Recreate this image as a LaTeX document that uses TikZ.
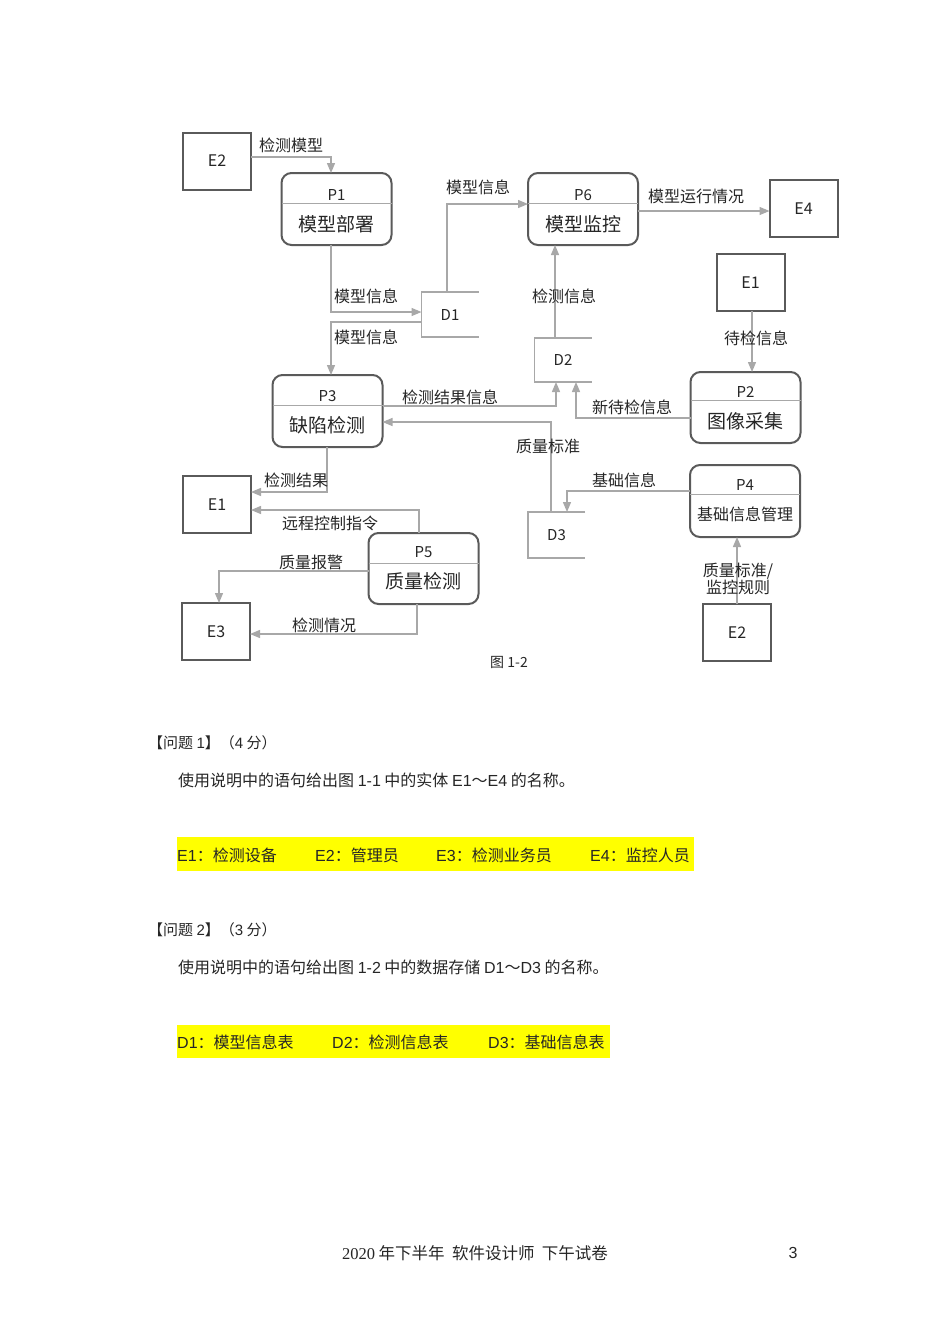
\documentclass[tikz,border=0pt]{standalone}
\usepackage{fontspec}
\newfontfamily\cjk{Noto Sans CJK SC}
\newfontfamily\latin{Liberation Sans}
\newfontfamily\latinserif{Liberation Serif}
\usetikzlibrary{arrows.meta,positioning}
\definecolor{boxgray}{HTML}{5A5A5A}
\definecolor{linegray}{HTML}{A8A8A8}
\definecolor{txtgray}{HTML}{262626}
\definecolor{hlyellow}{HTML}{FFFF00}

\begin{document}
\begin{tikzpicture}[x=1pt,y=-1pt]
    \tikzset{entity/.style= {draw=boxgray, line width=2pt, rectangle
    , minimum width=68pt, minimum height=57pt, outer sep=0pt
    , font=\cjk\fontsize{16}{16}\selectfont, text=txtgray
      },
    process/.style= {draw=boxgray, line width=2pt, rectangle
    , rounded corners=10pt, outer sep=0pt
    , minimum width=110pt, minimum height=72pt
      },
    pid/.style= {font=\cjk\fontsize{15}{15}\selectfont, text=txtgray, inner sep=0pt},
    pname/.style= {font=\cjk\fontsize{19}{19}\selectfont, text=txtgray, inner sep=0pt},
    divider/.style= {draw=linegray, line width=1pt},
    store/.style= {minimum width=57pt, minimum height=45pt, outer sep=0pt
    , font=\cjk\fontsize{15}{15}\selectfont, text=txtgray
      },
    storeline/.style= {draw=linegray, line width=1.2pt},
    flow/.style= {draw=linegray, line width=1.3pt
    , -{Triangle[length=10pt,width=8pt]}
      },
    lbl/.style= {font=\cjk\fontsize{16}{17}\selectfont, text=txtgray, inner sep=0pt},
    body/.style= {font=\cjk\fontsize{16}{16}\selectfont, text=black!85
    , inner sep=0pt, anchor=west
      },
    hl/.style= {fill=hlyellow}
    }

\fill[white] (0,0) rectangle (950,1344);
\useasboundingbox (0,0) rectangle (950,1344);

% entities
\node [entity] (e2a) at (217,161) {E2};
\node [entity] (e4) at (803.5,208.5) {E4};
\node [entity] (e1b) at (750.5,282.5) {E1};
\node [entity] (e1a) at (217,504.5) {E1};
\node [entity] (e3) at (216,631.5) {E3};
\node [entity] (e2b) at (737,632.5) {E2};

% processes
\node [process] (p1) at (336.5,209) {};
\node [pid] (p1id) at ([yshift=-22pt]p1.north) {P1};
\node [pname] (p1name) at ([yshift=-51pt]p1.north) {模型部署};
\draw [divider] ([yshift=-30pt]p1.north west) -- ([yshift=-30pt]p1.north east);

\node [process] (p6) at (583,209) {};
\node [pid] (p6id) at ([yshift=-22pt]p6.north) {P6};
\node [pname] (p6name) at ([yshift=-51pt]p6.north) {模型监控};
\draw [divider] ([yshift=-30pt]p6.north west) -- ([yshift=-30pt]p6.north east);

\node [process, minimum height=71pt] (p2) at (745.5,407.5) {};
\node [pid] (p2id) at ([yshift=-20pt]p2.north) {P2};
\node [pname] (p2name) at ([yshift=-49pt]p2.north) {图像采集};
\draw [divider] ([yshift=-28pt]p2.north west) -- ([yshift=-28pt]p2.north east);

\node [process] (p3) at (327.5,411) {};
\node [pid] (p3id) at ([yshift=-21pt]p3.north) {P3};
\node [pname] (p3name) at ([yshift=-50pt]p3.north) {缺陷检测};
\draw [divider] ([yshift=-30pt]p3.north west) -- ([yshift=-30pt]p3.north east);

\node [process] (p4) at (745,501) {};
\node [pid] (p4id) at ([yshift=-20pt]p4.north) {P4};
\node [pname, font=\cjk\fontsize{16}{16}\selectfont] (p4name) at ([yshift=-49pt]p4.north) {基础信息管理};
\draw [divider] ([yshift=-29pt]p4.north west) -- ([yshift=-29pt]p4.north east);

\node [process, minimum height=71pt] (p5) at (423.5,568.5) {};
\node [pid] (p5id) at ([yshift=-19pt]p5.north) {P5};
\node [pname] (p5name) at ([yshift=-48pt]p5.north) {质量检测};
\draw [divider] ([yshift=-30pt]p5.north west) -- ([yshift=-30pt]p5.north east);

% data stores
\node [store] (d1) at (450,314.5) {D1};
\draw [storeline] (d1.north east) -- (d1.north west) -- (d1.south west) -- (d1.south east);
\node [store, minimum height=44pt] (d2) at (563,360) {D2};
\draw [storeline] (d2.north east) -- (d2.north west) -- (d2.south west) -- (d2.south east);
\node [store, minimum height=46pt] (d3) at (556.5,535) {D3};
\draw [storeline] (d3.north east) -- (d3.north west) -- (d3.south west) -- (d3.south east);

% data flows
\path[flow] (e2a.east |- 0,157) -| (p1.north -| 331,0);
\node [lbl] (l1) at (291,145) {检测模型};
\path[flow] (p1.south -| 331,0) |- (d1.west |- 0,312);
\node [lbl] (l2) at (366,296) {模型信息};
\path[flow] (d1.west |- 0,322) -| (p3.north -| 331,0);
\node [lbl] (l3) at (366,337) {模型信息};
\path[flow] (d1.north -| 447,0) |- (p6.west |- 0,204);
\node [lbl] (l4) at (478,187) {模型信息};
\path[flow] (p6.east |- 0,211) -- (e4.west |- 0,211);
\node [lbl] (l5) at (696,196) {模型运行情况};
\path[flow] (d2.north -| 555,0) -- (p6.south -| 555,0);
\node [lbl] (l6) at (564,296) {检测信息};
\path[flow] (e1b.south -| 752,0) -- (p2.north -| 752,0);
\node [lbl] (l7) at (756,338) {待检信息};
\path[flow] (p2.west |- 0,418) -| (d2.south -| 576,0);
\node [lbl] (l8) at (632,407) {新待检信息};
\path[flow] (p3.east |- 0,406) -| (d2.south -| 556,0);
\node [lbl] (l9) at (450,397) {检测结果信息};
\path[flow] (d3.north -| 551,0) |- (p3.east |- 0,422);
\node [lbl] (l10) at (548,446) {质量标准};
\path[flow] (p4.west |- 0,491) -| (d3.north -| 567,0);
\node [lbl] (l11) at (624,480) {基础信息};
\path[flow] (e2b.north -| 737,0) -- (p4.south -| 737,0);
\node [lbl, align=center] (l12) at (738,579) {质量标准/\\监控规则};
\path[flow] (p3.south -| 327,0) |- (e1a.east |- 0,492);
\node [lbl] (l13) at (296,480) {检测结果};
\path[flow] (p5.north -| 419,0) |- (e1a.east |- 0,510);
\node [lbl] (l14) at (330,523) {远程控制指令};
\path[flow] (p5.west |- 0,571) -| (e3.north -| 219,0);
\node [lbl] (l15) at (311,562) {质量报警};
\path[flow] (p5.south -| 417,0) |- (e3.east |- 0,634);
\node [lbl] (l16) at (324,625) {检测情况};

\node [lbl, font=\cjk\fontsize{14}{14}\selectfont] (caption) at (509,662) {图 1-2};

% questions
\node [body, font=\cjk\fontsize{15}{15}\selectfont] (q1) at (148,743) {【问题 {\latin 1}】（{\latin 4} 分）};
\node [body] (q1text) at (178,780) {使用说明中的语句给出图 {\latin 1-1} 中的实体 {\latin E1}～{\latin E4} 的名称。};
\fill [hl] (177,837) rectangle (694,871);
\node [body] (a1e1) at (177,855) {{\latin E1}：检测设备};
\node [body] (a1e2) at (315,855) {{\latin E2}：管理员};
\node [body] (a1e3) at (436,855) {{\latin E3}：检测业务员};
\node [body] (a1e4) at (590,855) {{\latin E4}：监控人员};

\node [body, font=\cjk\fontsize{15}{15}\selectfont] (q2) at (148,930) {【问题 {\latin 2}】（{\latin 3} 分）};
\node [body] (q2text) at (178,967) {使用说明中的语句给出图 {\latin 1-2} 中的数据存储 {\latin D1}～{\latin D3} 的名称。};
\fill [hl] (177,1025) rectangle (610,1058);
\node [body] (a2d1) at (177,1042) {{\latin D1}：模型信息表};
\node [body] (a2d2) at (332,1042) {{\latin D2}：检测信息表};
\node [body] (a2d3) at (488,1042) {{\latin D3}：基础信息表};

% footer
\node [body, anchor=center, font=\cjk\fontsize{16.5}{16.5}\selectfont] (footer) at (475,1253) {{\latinserif 2020} 年下半年\ \ 软件设计师\ \ 下午试卷};
\node [body, anchor=center] (pageno) at (793,1253) {{\latin 3}};
\end{tikzpicture}
\end{document}
